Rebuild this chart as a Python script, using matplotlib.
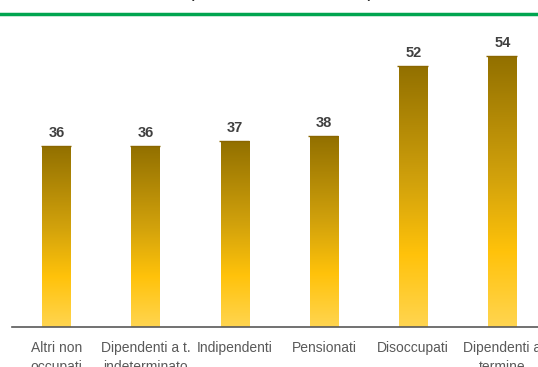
import numpy as np
import matplotlib.pyplot as plt
from matplotlib.colors import LinearSegmentedColormap

categorie = ["Altri non\noccupati", "Dipendenti a t.\nindeterminato", "Indipendenti",
             "Pensionati", "Disoccupati", "Dipendenti a\ntermine"]
valori = [36, 36, 37, 38, 52, 54]

plt.rcParams['font.family'] = ['Liberation Sans Narrow', 'Liberation Sans', 'DejaVu Sans']

# sfumatura delle barre: chiaro in basso, oro scuro in alto
oro = LinearSegmentedColormap.from_list(
    "oro", [(0.0, "#FFD550"), (0.28, "#FFC20A"), (0.55, "#D2A20C"), (1.0, "#927000")])

fig = plt.figure(figsize=(5.38, 3.67), dpi=100)
ax = fig.add_axes([12/538, 40/367, 535/538, 307/367])

x = np.arange(len(valori))
larghezza = 0.32
grad = np.linspace(0, 1, 256).reshape(-1, 1)
for xi, v in zip(x, valori):
    ax.imshow(grad, cmap=oro, origin='lower', aspect='auto',
              extent=[xi - larghezza/2, xi + larghezza/2, 0, v], zorder=2)
    ax.hlines(v + 0.15, xi - larghezza/2 - 0.02, xi + larghezza/2, color="#8A6600",
              linewidth=1.0, zorder=3)
    ax.text(xi, v + 1.3, str(v), ha='center', va='bottom', fontsize=10.5,
            fontweight='bold', color="#404040")

ax.set_xlim(-0.5, 5.5)
ax.set_ylim(0, 61.4)
ax.set_xticks(x)
ax.set_xticklabels(categorie, fontsize=10, color="#595959", linespacing=1.5)
ax.tick_params(axis='x', length=0, pad=10)
ax.set_yticks([])
for lato in ['top', 'right', 'left']:
    ax.spines[lato].set_visible(False)
ax.spines['bottom'].set_color("#595959")
ax.spines['bottom'].set_linewidth(1.2)

# linea verde e titolo tagliato in alto
fig.add_artist(plt.Line2D([0, 1], [1 - 14/367, 1 - 14/367], color="#00A550",
                          linewidth=2.5, transform=fig.transFigure))
fig.text(0.523, 1 - 1/367, "(valori %, anno 2023)", ha='center', va='bottom',
         fontsize=14, color="#222222")

fig.savefig("out.png", dpi=100)
